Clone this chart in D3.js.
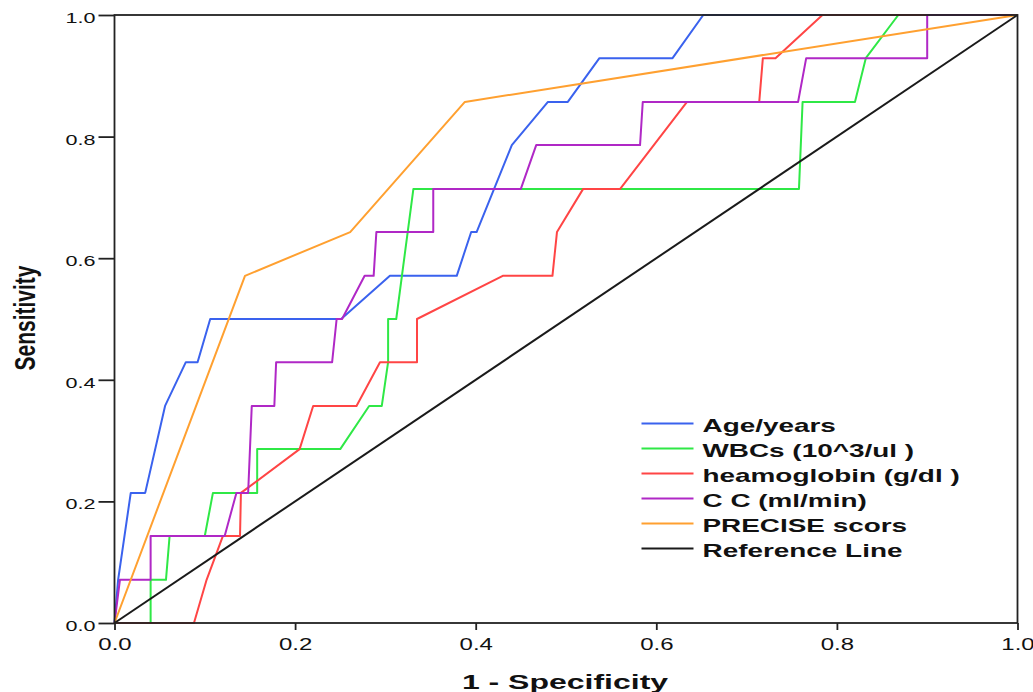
<!DOCTYPE html>
<html>
<head>
<meta charset="utf-8">
<script src="https://cdn.jsdelivr.net/npm/d3@7"></script>
<style>
    body { margin: 0; background: #fff; }
    svg { display: block; }
    text { font-family: "Liberation Sans", Arial, sans-serif; fill: #111; }
</style>
</head>
<body>
<svg id="chart" width="1033" height="692"></svg>
<script>
// ROC curves, points are [1 - specificity, sensitivity]
const seriesNames = ["Age/years", "WBCs (10^3/ul )", "heamoglobin (g/dl )", "C C (ml/min)", "PRECISE scors", "Reference Line"];

const ageCurve = [[0, 0], [0.004, 0.071], [0.018, 0.214], [0.034, 0.214], [0.056, 0.357], [0.079, 0.429], [0.092, 0.429],
    [0.106, 0.5], [0.251, 0.5], [0.305, 0.571], [0.379, 0.571], [0.395, 0.643], [0.401, 0.643], [0.44, 0.786],
    [0.48, 0.857], [0.502, 0.857], [0.537, 0.929], [0.618, 0.929], [0.652, 1], [1, 1]];

const wbcCurve = [[0, 0], [0.04, 0], [0.04, 0.071], [0.057, 0.071], [0.061, 0.143], [0.1, 0.143], [0.109, 0.214],
    [0.158, 0.214], [0.158, 0.286], [0.25, 0.286], [0.282, 0.357], [0.296, 0.357], [0.303, 0.429], [0.303, 0.5],
    [0.312, 0.5], [0.331, 0.714], [0.758, 0.714], [0.762, 0.857], [0.82, 0.857], [0.832, 0.929], [0.868, 1], [1, 1]];

const hbCurve = [[0, 0], [0.088, 0], [0.102, 0.071], [0.12, 0.143], [0.139, 0.143], [0.14, 0.214], [0.205, 0.286],
    [0.22, 0.357], [0.268, 0.357], [0.294, 0.429], [0.335, 0.429], [0.335, 0.5], [0.43, 0.571], [0.485, 0.571],
    [0.49, 0.643], [0.519, 0.714], [0.56, 0.714], [0.634, 0.857], [0.714, 0.857], [0.718, 0.929], [0.732, 0.929],
    [0.784, 1], [1, 1]];

const ccCurve = [[0, 0], [0.006, 0.071], [0.04, 0.071], [0.04, 0.143], [0.122, 0.143], [0.135, 0.214], [0.148, 0.214],
    [0.152, 0.357], [0.177, 0.357], [0.179, 0.429], [0.241, 0.429], [0.246, 0.5], [0.252, 0.5], [0.277, 0.571],
    [0.287, 0.571], [0.29, 0.643], [0.353, 0.643], [0.353, 0.714], [0.45, 0.714], [0.467, 0.786], [0.582, 0.786],
    [0.585, 0.857], [0.757, 0.857], [0.766, 0.929], [0.9, 0.929], [0.9, 1], [1, 1]];

const preciseCurve = [[0, 0], [0.1445, 0.571], [0.261, 0.643], [0.388, 0.857], [1, 1]];

const referenceLine = [[0, 0], [1, 1]];

const xTicks = [0, 0.2, 0.4, 0.6, 0.8, 1.0];
const yTicks = [0, 0.2, 0.4, 0.6, 0.8, 1.0];

const lineColors = ["#3a62ee", "#2fe846", "#ff4545", "#b028c6", "#ffa030", "#1a1a1a"];

const curves = [ageCurve, wbcCurve, hbCurve, ccCurve, preciseCurve, referenceLine];

// the original picture is stretched sideways, so the text is too
const textStretch = 1.55;

let svg = d3.select("#chart");
let plot = {left: 114.5, right: 1017.5, top: 15, bottom: 623};

let xScaler = d3.scaleLinear().domain([0, 1]).range([plot.left, plot.right]);
let yScaler = d3.scaleLinear().domain([0, 1]).range([plot.bottom, plot.top]);

let lineScaler = d3.line()
    .x(function (d) { return xScaler(d[0]); })
    .y(function (d) { return yScaler(d[1]); });

// curves
svg.append("g")
    .attr("class", "curves")
    .selectAll("path")
    .data(curves)
    .join("path")
    .attr("d", lineScaler)
    .attr("fill", "none")
    .attr("stroke", function (d, i) { return lineColors[i]; })
    .attr("stroke-width", 2)
    .attr("stroke-linejoin", "round");

// frame
svg.append("rect")
    .attr("x", plot.left)
    .attr("y", plot.top)
    .attr("width", plot.right - plot.left)
    .attr("height", plot.bottom - plot.top)
    .attr("fill", "none")
    .attr("stroke", "#222")
    .attr("stroke-width", 1.8);

// axes
let xAxis = d3.axisBottom(xScaler).tickValues(xTicks).tickFormat(d3.format(".1f")).tickSize(7).tickSizeOuter(0);
let yAxis = d3.axisLeft(yScaler).tickValues(yTicks).tickFormat(d3.format(".1f")).tickSize(16).tickSizeOuter(0);

let xAxisElem = svg.append("g")
    .attr("transform", "translate(0," + plot.bottom + ")")
    .call(xAxis);
xAxisElem.select(".domain").remove();
xAxisElem.selectAll("line").attr("stroke", "#222").attr("stroke-width", 1.8);
xAxisElem.selectAll("text")
    .attr("y", null).attr("dy", null)
    .attr("transform", "translate(0,27) scale(1.5,1)")
    .style("font-size", "16px")
    .style("font-family", "'Liberation Sans', Arial, sans-serif")
    .attr("fill", "#222");

let yAxisElem = svg.append("g")
    .attr("transform", "translate(" + plot.left + ",0)")
    .call(yAxis);
yAxisElem.select(".domain").remove();
yAxisElem.selectAll("line").attr("stroke", "#222").attr("stroke-width", 1.8);
yAxisElem.selectAll("text")
    .attr("x", null).attr("dy", null)
    .attr("transform", "translate(-19,7.5) scale(1.54,1)")
    .style("font-size", "14px")
    .style("font-family", "'Liberation Sans', Arial, sans-serif")
    .attr("fill", "#222");

// axis titles
svg.append("text")
    .attr("transform", "translate(565,689) scale(1.6,1)")
    .attr("text-anchor", "middle")
    .style("font-size", "20px")
    .style("font-weight", "bold")
    .text("1 - Specificity");

svg.append("text")
    .attr("transform", "translate(35,318) scale(1.4,1) rotate(-90)")
    .attr("text-anchor", "middle")
    .style("font-size", "21px")
    .style("font-weight", "bold")
    .text("Sensitivity");

// legend
let legend = svg.append("g")
    .attr("class", "legend")
    .attr("transform", "translate(641.5,423.5)");

let legendRows = legend.selectAll("g")
    .data(seriesNames)
    .join("g")
    .attr("transform", function (d, i) { return "translate(0," + (i * 25) + ")"; });

legendRows.append("line")
    .attr("x1", 0)
    .attr("x2", 52)
    .attr("stroke", function (d, i) { return lineColors[i]; })
    .attr("stroke-width", 2);

legendRows.append("text")
    .attr("transform", "translate(61,8) scale(" + textStretch + ",1)")
    .style("font-size", "18px")
    .style("font-weight", "bold")
    .text(function (d) { return d; });
</script>
</body>
</html>
